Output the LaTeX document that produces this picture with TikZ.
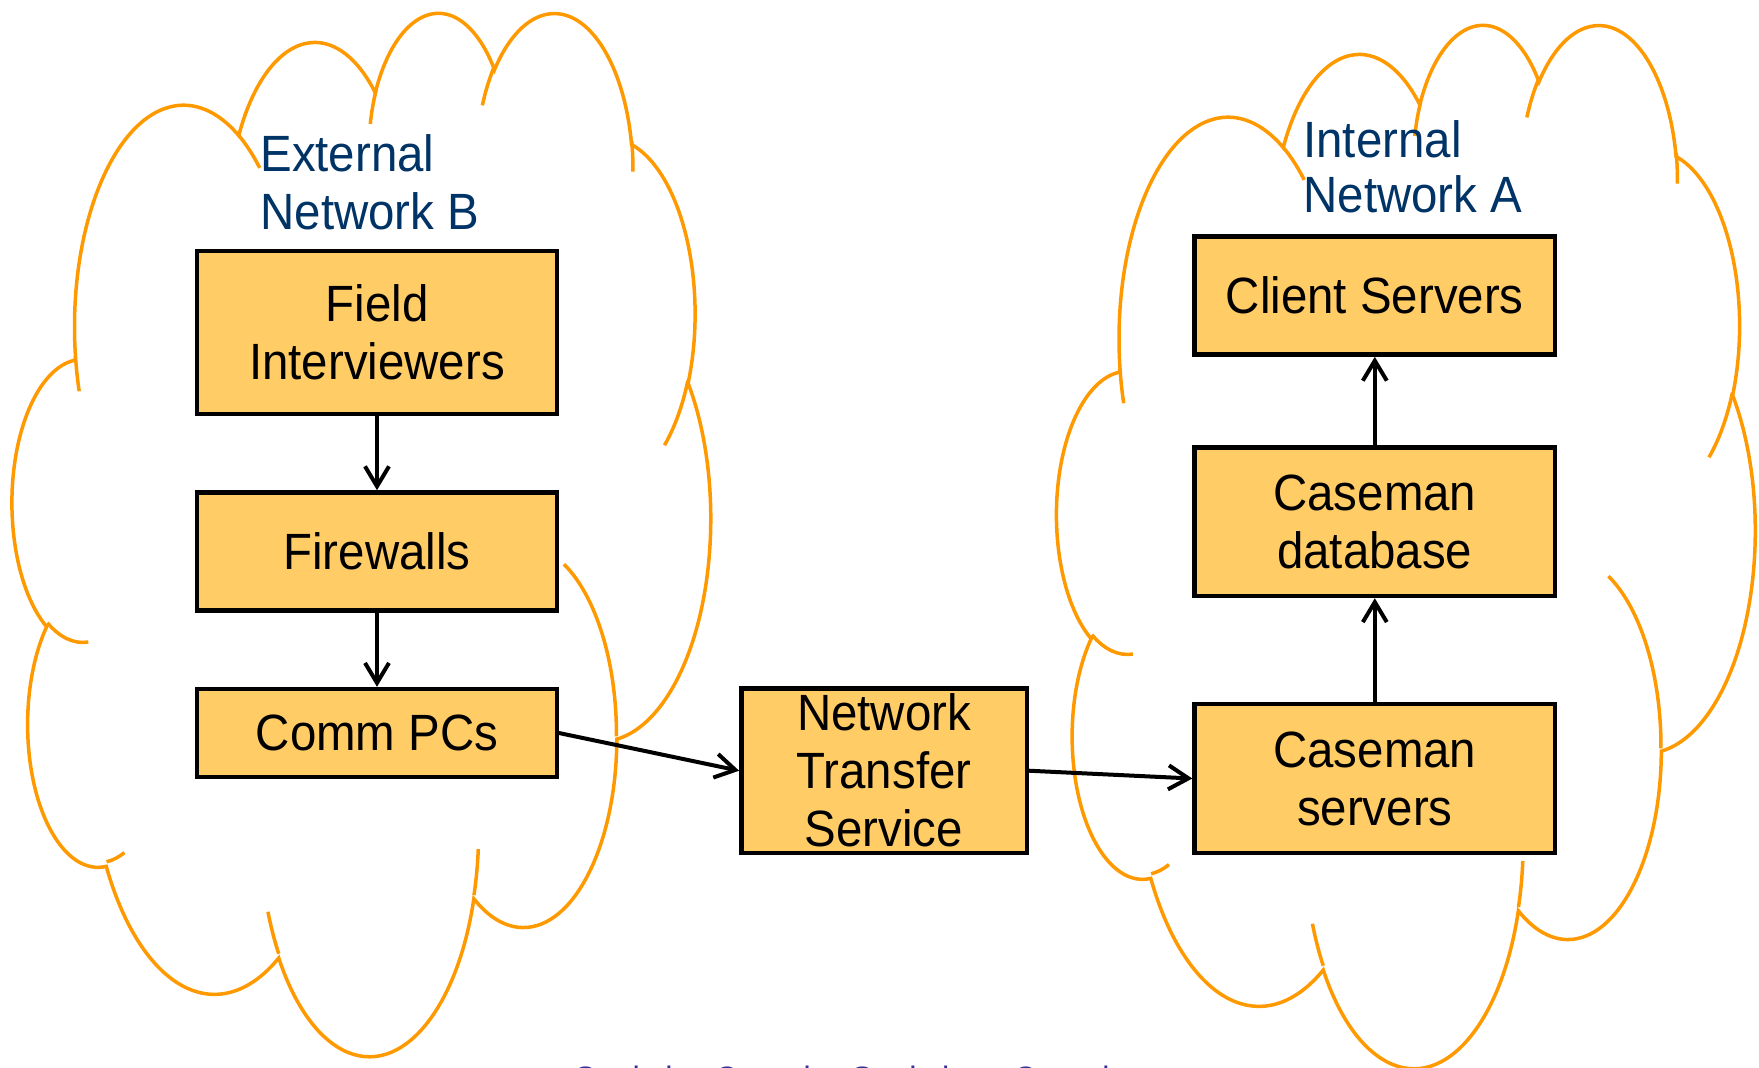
\documentclass[tikz,border=0pt]{standalone}
\usepackage{fontspec}
\setmainfont{Liberation Sans}[FakeStretch=0.93]
\usetikzlibrary{arrows.meta}
\definecolor{cloudorange}{HTML}{FF9900}
\definecolor{boxfill}{HTML}{FFCC66}
\definecolor{labelblue}{HTML}{003366}
\definecolor{footblue}{HTML}{333399}
\newcommand{\cloudoutline}{%
  \draw[cloudline] (39.00,143.70)
    arc[start angle=172.253, delta angle=128.105, x radius=67.53, y radius=91.90]
    arc[start angle=-152.035, delta angle=106.575, x radius=53.33, y radius=72.67]
    arc[start angle=-153.496, delta angle=116.151, x radius=43.65, y radius=59.45]
    arc[start angle=-139.703, delta angle=129.492, x radius=48.57, y radius=65.95]
    arc[start angle=-74.770, delta angle=97.983, x radius=53.33, y radius=72.73]
    arc[start angle=-37.528, delta angle=119.391, x radius=67.75, y radius=92.20]
    arc[start angle=0.4596, delta angle=121.518, x radius=57.85, y radius=78.67]
    arc[start angle=16.844, delta angle=129.371, x radius=67.52, y radius=92.15]
    arc[start angle=58.986, delta angle=91.207, x radius=77.20, y radius=105.43]
    arc[start angle=83.307, delta angle=139.820, x radius=43.60, y radius=59.18]
    arc[start angle=120.356, delta angle=143.756, x radius=43.45, y radius=59.45]
    -- cycle;
  \draw[cloudline]
    (46.93,261.77) arc[start angle=85.546, delta angle=34.81, x radius=43.45, y radius=59.45]
    (69.28,348.99) arc[start angle=68.234, delta angle=15.073, x radius=43.60, y radius=59.18]
    (164.78,390.90) arc[start angle=146.215, delta angle=12.258, x radius=67.52, y radius=92.15]
    (288.27,347.51) arc[start angle=4.737, delta angle=12.107, x radius=67.52, y radius=92.15]
    (341.29,229.54) arc[start angle=-64.022, delta angle=64.48, x radius=57.85, y radius=78.67]
    (417.98,153.54) arc[start angle=23.213, delta angle=26.424, x radius=53.33, y radius=72.73]
    (383.24,54.26) arc[start angle=-10.211, delta angle=11.032, x radius=48.57, y radius=65.95]
    (290.78,39.52) arc[start angle=-156.283, delta angle=16.58, x radius=48.57, y radius=65.95]
    (221.41,47.20) arc[start angle=-167.726, delta angle=14.23, x radius=43.65, y radius=59.45]
    (140.00,51.92) arc[start angle=-59.642, delta angle=13.9, x radius=67.53, y radius=91.90]
    (41.27,157.89) arc[start angle=163.193, delta angle=9.06, x radius=67.53, y radius=91.90];
}
\begin{document}
\begin{tikzpicture}[x=0.5pt,y=-0.5pt,
  cloudline/.style={draw=cloudorange, line width=1.75pt},
  procbox/.style={draw=black, fill=boxfill, line width=2.2pt, inner sep=0pt, align=center,
    font=\fontsize{25.5}{29}\selectfont},
  netlabel/.style={text=labelblue, anchor=base west, inner sep=0pt,
    font=\fontsize{25.5}{29}\selectfont},
  flow/.style={draw=black, line width=2pt, line cap=round,
    -{Straight Barb[length=10pt,width=12pt,line width=2pt]}},
]
\useasboundingbox (0,0) rectangle (1759,1067);
\clip (0,0) rectangle (1759,1067);
\fill[white] (0,0) rectangle (1759,1067);

% clouds
\begin{scope}[shift={(12.5,10)}, x=0.80787pt, y=-1.20718pt]
  \cloudoutline
\end{scope}
\begin{scope}[shift={(1057,22)}, x=0.80787pt, y=-1.20718pt]
  \cloudoutline
\end{scope}

% labels
\node[netlabel] (extB1) at (260,171.6) {External};
\node[netlabel] (extB2) at (260,229) {Network B};
\node[netlabel] (intA1) at (1303,157) {Internal};
\node[netlabel] (intA2) at (1303,212) {Network A};

% boxes
\node[procbox, minimum width=179.8pt, minimum height=81.5pt] (field) at (377,332.6) {Field\\Interviewers};
\node[procbox, minimum width=179.8pt, minimum height=59pt] (fire) at (377,551.4) {Firewalls};
\node[procbox, minimum width=179.8pt, minimum height=44pt] (comm) at (377,733) {Comm PCs};
\node[procbox, minimum width=142.7pt, minimum height=82.2pt] (nts) at (884,770.7) {Network\\Transfer\\Service};
\node[procbox, minimum width=180.3pt, minimum height=59pt] (client) at (1374.8,295.6) {Client Servers};
\node[procbox, minimum width=180.3pt, minimum height=74.3pt] (db) at (1374.8,521.7) {Caseman\\database};
\node[procbox, minimum width=180.3pt, minimum height=74.3pt] (servers) at (1374.8,778.5) {Caseman\\servers};

% connectors
\draw[flow] (field) -- (fire);
\draw[flow] (fire) -- (comm);
\draw[flow] (comm.east) -- (nts.west);
\draw[flow] (nts.east) -- (servers.west);
\draw[flow] (servers) -- (db);
\draw[flow] (db) -- (client);

% footer (cut off at the bottom edge, as in the reference)
\node[anchor=base west, inner sep=0pt, text=footblue, font=\fontsize{17.6}{20}\selectfont]
  (foot) at (574,1091) {Statistics Canada\hspace{11pt}Statistique Canada};
\end{tikzpicture}
\end{document}
